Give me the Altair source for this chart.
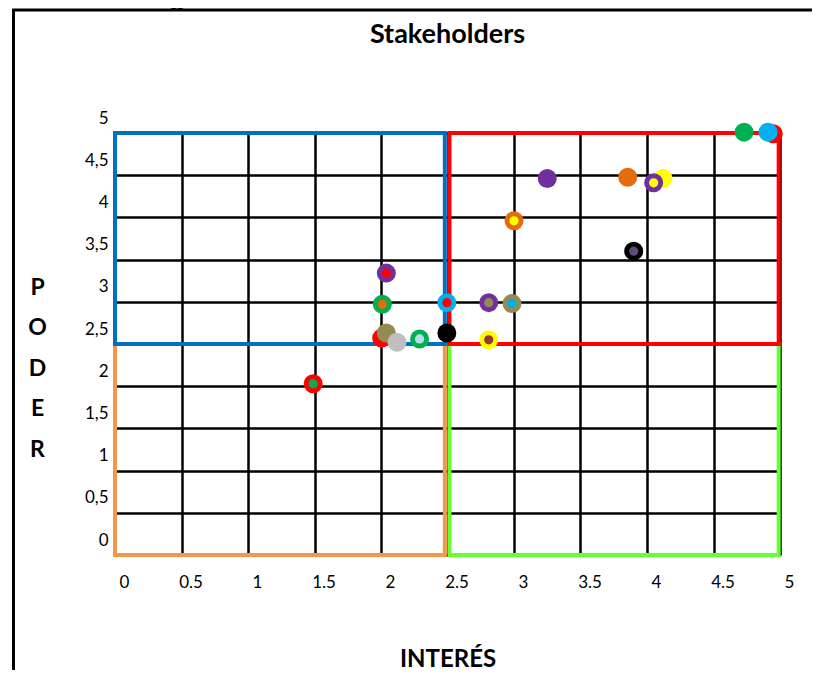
import altair as alt
import pandas as pd

# --- Stakeholders: interés (x), poder (y), color exterior y color interior ---
interes = [2.04, 2.01, 2.005, 2.04, 2.12, 2.29, 2.495, 2.495, 2.81, 2.985, 2.81,
           3.25, 3.0, 3.855, 4.12, 4.05, 3.9, 4.73, 4.95, 4.91, 1.49]
poder = [3.34, 2.97, 2.57, 2.63, 2.52, 2.56, 2.99, 2.63, 2.99, 2.98, 2.55,
         4.46, 3.96, 4.475, 4.46, 4.41, 3.60, 5.01, 4.99, 5.01, 2.03]
color_exterior = ["morado", "verde", "rojo", "oliva", "plata", "verde", "celeste", "negro",
                  "morado", "oliva", "amarillo", "morado", "naranja", "naranja", "amarillo",
                  "morado", "negro", "verde", "rojo", "celeste", "rojo"]
color_interior = ["rojo", "naranja", "", "", "", "celeste claro", "rojo", "",
                  "oliva", "celeste", "granate", "", "amarillo", "", "",
                  "amarillo", "lila", "", "", "", "verde"]

nombres_color = ["morado", "rojo", "verde", "naranja", "oliva", "plata", "celeste",
                 "celeste claro", "negro", "amarillo", "granate", "lila"]
hex_color = ["#7030A0", "#FF0000", "#00B050", "#E46C0A", "#948A54", "#BFBFBF", "#00B0F0",
             "#B7DEE8", "#000000", "#FFFF00", "#953735", "#604A7B"]

# --- Cuadrantes de la matriz poder/interés ---
cuadrante = ["Monitorear", "Mantener informados", "Mantener satisfechos", "Gestionar de cerca"]
cuad_x0 = [0, 2.515, 0, 2.515]
cuad_x1 = [2.48, 4.99, 2.48, 4.99]
cuad_y0 = [0, 0, 2.5, 2.5]
cuad_y1 = [2.5, 2.5, 5, 5]
cuad_color = ["#F79646", "#66FF33", "#0070C0", "#FF0000"]

ticks = [0, 0.5, 1, 1.5, 2, 2.5, 3, 3.5, 4, 4.5, 5]

titulo_general = "Representación gráfica resultados modelo Poder/Interés"
titulo_grafico = "Stakeholders"

FONT = "Lato"

pts = pd.DataFrame({"interes": interes, "poder": poder,
                    "ext": color_exterior, "int": color_interior})
cuad = pd.DataFrame({"cuadrante": cuadrante, "x0": cuad_x0, "x1": cuad_x1,
                     "y0": cuad_y0, "y1": cuad_y1})
uno = pd.DataFrame({"k": [0]})

xscale = alt.Scale(domain=[0, 5], nice=False, zero=False)
yscale = alt.Scale(domain=[0, 5], nice=False, zero=False)
cscale = alt.Scale(domain=nombres_color, range=hex_color)

xaxis = alt.Axis(values=ticks, format=".1~f", title="INTERÉS", grid=True, gridColor="#000000",
                 gridWidth=2.5, ticks=False, domain=False, labelFont=FONT, labelFontSize=17,
                 labelColor="#000", labelPadding=19, labelOffset=9, labelFlush=False,
                 titleFont=FONT, titleFontSize=24, titleFontWeight="bold", titleColor="#000",
                 titleBaseline="alphabetic", titleY=111, titleX=332.5, titleAlign="center")
yaxis = alt.Axis(values=ticks, format=".1~f", title=["P", "O", "D", "E", "R"], grid=True,
                 gridColor="#000000", gridWidth=2.5, ticks=False, domain=False,
                 labelFont=FONT, labelFontSize=17, labelColor="#000", labelPadding=7,
                 labelOffset=-15, labelFlush=False,
                 labelExpr="replace(datum.label, '.', ',')",
                 titleFont=FONT, titleFontSize=23, titleFontWeight="bold", titleColor="#000",
                 titleAngle=0, titleAlign="center", titleBaseline="alphabetic", titleX=-78,
                 titleY=161, titleLineHeight=40.5)

marco = alt.Chart(uno).mark_rect(filled=False, stroke="#000", strokeWidth=3).encode(
    x=alt.value(-101.5), x2=alt.value(760), y=alt.value(-123), y2=alt.value(620))

titulo_cortado = alt.Chart(uno).mark_text(
    align="left", baseline="alphabetic", font="Liberation Sans", fontSize=26,
    fontWeight="bold", color="#000"
).encode(x=alt.value(-148), y=alt.value(-127), text=alt.value(titulo_general))

titulo = alt.Chart(uno).mark_text(
    align="center", baseline="alphabetic", font=FONT, fontSize=27, fontWeight="bold",
    color="#000"
).encode(x=alt.value(332.5), y=alt.value(-90), text=alt.value(titulo_grafico))

cuadros = alt.Chart(cuad).mark_rect(filled=False, strokeWidth=4).encode(
    x=alt.X("x0:Q", scale=xscale, axis=xaxis),
    x2="x1:Q",
    y=alt.Y("y0:Q", scale=yscale, axis=yaxis),
    y2="y1:Q",
    stroke=alt.Stroke("cuadrante:N", scale=alt.Scale(domain=cuadrante, range=cuad_color),
                      legend=None),
)

exterior = alt.Chart(pts).mark_circle(size=360, opacity=1).encode(
    x=alt.X("interes:Q", scale=xscale),
    y=alt.Y("poder:Q", scale=yscale),
    color=alt.Color("ext:N", scale=cscale, legend=None),
)

interior = alt.Chart(pts).transform_filter("datum.int != ''").mark_circle(
    size=85, opacity=1).encode(
    x=alt.X("interes:Q", scale=xscale),
    y=alt.Y("poder:Q", scale=yscale),
    color=alt.Color("int:N", scale=cscale, legend=None),
)

chart = alt.layer(marco, titulo_cortado, titulo, cuadros, exterior, interior).properties(
    width=665, height=422,
    autosize=alt.AutoSizeParams(type="none"),
    padding={"left": 107, "top": 125, "right": 32, "bottom": 115},
).configure_view(stroke=None).resolve_scale(color="shared")

chart.save("out.html", embed_options={"renderer": "svg", "actions": False})
